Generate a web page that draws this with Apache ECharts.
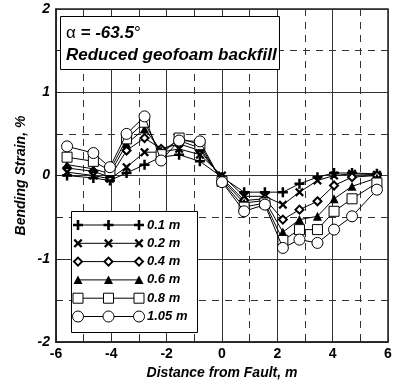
<!DOCTYPE html>
<html><head><meta charset="utf-8">
<script src="https://cdn.jsdelivr.net/npm/echarts@6/dist/echarts.min.js"></script>
<style>html,body{margin:0;padding:0;background:#fff}#c{width:402px;height:387px}</style>
</head><body><div id="c"></div>
<script>
var distances = [-5.6, -4.65, -4.05, -3.45, -2.8, -2.2, -1.55, -0.8, 0, 0.8, 1.55, 2.2, 2.8, 3.45, 4.05, 4.7, 5.6];
var seriesNames = ['0.1 m', '0.2 m', '0.4 m', '0.6 m', '0.8 m', '1.05 m'];
var strain01 = [0.0, -0.03, -0.06, 0.03, 0.13, 0.22, 0.25, 0.17, -0.02, -0.2, -0.2, -0.2, -0.1, -0.02, 0.03, 0.03, 0.02];
var strain02 = [0.04, 0.0, -0.04, 0.1, 0.28, 0.28, 0.32, 0.25, 0.0, -0.25, -0.25, -0.35, -0.2, -0.06, 0.0, 0.02, 0.01];
var strain04 = [0.09, 0.05, -0.02, 0.3, 0.45, 0.32, 0.38, 0.3, -0.03, -0.3, -0.28, -0.53, -0.41, -0.31, -0.12, -0.02, 0.0];
var strain06 = [0.13, 0.08, 0.02, 0.38, 0.56, 0.3, 0.42, 0.33, -0.05, -0.33, -0.3, -0.68, -0.53, -0.49, -0.28, -0.13, -0.03];
var strain08 = [0.22, 0.17, 0.06, 0.44, 0.64, 0.25, 0.45, 0.37, -0.07, -0.38, -0.33, -0.78, -0.65, -0.65, -0.43, -0.28, -0.09];
var strain105 = [0.35, 0.27, 0.1, 0.5, 0.71, 0.18, 0.42, 0.41, -0.08, -0.43, -0.35, -0.87, -0.77, -0.81, -0.65, -0.49, -0.17];
var xTicks = [-6, -4, -2, 0, 2, 4, 6];
var yTicks = [-2, -1, 0, 1, 2];
var annotationLine1 = ' = -63.5';
var annotationLine2 = 'Reduced geofoam backfill';

var FONT = '"Liberation Sans", Arial, sans-serif';
var allData = [strain01, strain02, strain04, strain06, strain08, strain105];
var symbolDefs = [
  {symbol: 'path://M3,0H5V3H8V5H5V8H3V5H0V3H3Z', size: 10, fill: '#000', border: 0},
  {symbol: 'path://M0,1.4L1.4,0L4,2.6L6.6,0L8,1.4L5.4,4L8,6.6L6.6,8L4,5.4L1.4,8L0,6.6L2.6,4Z', size: 9, fill: '#000', border: 0},
  {symbol: 'diamond', size: 8, fill: '#fff', border: 2},
  {symbol: 'triangle', size: 9, fill: '#000', border: 0},
  {symbol: 'rect', size: 10, fill: '#fff', border: 1},
  {symbol: 'circle', size: 11, fill: '#fff', border: 1}
];

var series = allData.map(function (arr, i) {
  var d = symbolDefs[i];
  return {
    name: seriesNames[i],
    type: 'line',
    data: distances.map(function (x, k) { return [x, arr[k]]; }),
    symbol: d.symbol,
    symbolSize: d.size,
    showAllSymbol: true,
    lineStyle: {color: '#000', width: 1},
    itemStyle: {color: d.fill, borderColor: '#000', borderWidth: d.border},
    z: 3 + i
  };
});

function legendSymbol(type, cx, cy) {
  if (type === 0) {
    var a = 1.3, r = 5;
    return {type: 'polygon', shape: {points: [[cx - a, cy - r], [cx + a, cy - r], [cx + a, cy - a], [cx + r, cy - a], [cx + r, cy + a], [cx + a, cy + a], [cx + a, cy + r], [cx - a, cy + r], [cx - a, cy + a], [cx - r, cy + a], [cx - r, cy - a], [cx - a, cy - a]]}, style: {fill: '#000'}};
  }
  if (type === 1) {
    var s = 4.5, t = 1.6;
    return {type: 'polygon', shape: {points: [[cx - s, cy - s + t], [cx - s + t, cy - s], [cx, cy - t], [cx + s - t, cy - s], [cx + s, cy - s + t], [cx + t, cy], [cx + s, cy + s - t], [cx + s - t, cy + s], [cx, cy + t], [cx - s + t, cy + s], [cx - s, cy + s - t], [cx - t, cy]]}, style: {fill: '#000'}};
  }
  if (type === 2) {
    return {type: 'polygon', shape: {points: [[cx, cy - 4], [cx + 4, cy], [cx, cy + 4], [cx - 4, cy]]}, style: {fill: '#fff', stroke: '#000', lineWidth: 2}};
  }
  if (type === 3) {
    return {type: 'polygon', shape: {points: [[cx, cy - 4.5], [cx + 4.5, cy + 4], [cx - 4.5, cy + 4]]}, style: {fill: '#000'}};
  }
  if (type === 4) {
    return {type: 'rect', shape: {x: cx - 5, y: cy - 5, width: 10, height: 10}, style: {fill: '#fff', stroke: '#000', lineWidth: 1}};
  }
  return {type: 'circle', shape: {cx: cx, cy: cy, r: 5.5}, style: {fill: '#fff', stroke: '#000', lineWidth: 1}};
}

var overlay = [];
overlay.push({type: 'rect', z: 100, shape: {x: 60.5, y: 16.5, width: 219, height: 53}, style: {fill: '#fff', stroke: '#000', lineWidth: 1}});
overlay.push({type: 'text', z: 101, x: 66, y: 33, style: {
  text: '{a|α}{b|' + annotationLine1 + '}{a|°}',
  verticalAlign: 'middle',
  rich: {
    a: {fontFamily: FONT, fontSize: 17, fontWeight: 'normal', fontStyle: 'normal', fill: '#000'},
    b: {fontFamily: FONT, fontSize: 17, fontWeight: 'bold', fontStyle: 'italic', fill: '#000'}
  }
}});
overlay.push({type: 'text', z: 101, x: 66, y: 55, style: {text: annotationLine2, font: 'italic bold 17px ' + FONT, fill: '#000', verticalAlign: 'middle'}});
overlay.push({type: 'rect', z: 100, shape: {x: 71.5, y: 211.5, width: 126, height: 121}, style: {fill: '#fff', stroke: '#000', lineWidth: 1}});
seriesNames.forEach(function (nm, i) {
  var cy = 225 + i * 18.3;
  overlay.push({type: 'line', z: 101, shape: {x1: 78, y1: cy, x2: 139, y2: cy}, style: {stroke: '#000', lineWidth: 1}});
  [78, 108.5, 139].forEach(function (cx) { var el = legendSymbol(i, cx, cy); el.z = 102; overlay.push(el); });
  overlay.push({type: 'text', z: 102, x: 147, y: cy, style: {text: nm, font: 'italic bold 13px ' + FONT, fill: '#000', verticalAlign: 'middle', textAlign: 'left'}});
});
overlay.forEach(function (el) { el.zlevel = 1; });

var option = {
  animation: false,
  backgroundColor: '#fff',
  grid: {left: 56, right: 14, top: 9, bottom: 45, show: true, borderColor: '#222', borderWidth: 1.5, backgroundColor: 'transparent'},
  xAxis: {
    type: 'value', min: xTicks[0], max: xTicks[xTicks.length - 1], interval: 2,
    name: 'Distance from Fault, m', nameLocation: 'middle', nameGap: 19,
    nameTextStyle: {fontFamily: FONT, fontWeight: 'bold', fontStyle: 'italic', fontSize: 14, color: '#000'},
    axisLine: {show: true, onZero: false, lineStyle: {color: '#222', width: 1.5}},
    axisTick: {show: true, inside: true, length: 5, lineStyle: {color: '#222'}},
    minorTick: {show: true, splitNumber: 2, length: 5, lineStyle: {color: '#222'}},
    axisLabel: {fontFamily: FONT, fontWeight: 'bold', fontSize: 14, color: '#000', margin: 5},
    splitLine: {show: true, lineStyle: {color: '#333', width: 1}},
    minorSplitLine: {show: true, lineStyle: {color: '#333', width: 1, type: [7, 6]}}
  },
  yAxis: {
    type: 'value', min: yTicks[0], max: yTicks[yTicks.length - 1], interval: 1,
    name: 'Bending Strain, %', nameLocation: 'middle', nameGap: 28, nameMoveOverlap: false,
    nameTextStyle: {fontFamily: FONT, fontWeight: 'bold', fontStyle: 'italic', fontSize: 14, color: '#000'},
    axisLine: {show: true, onZero: false, lineStyle: {color: '#222', width: 1.5}},
    axisTick: {show: true, inside: true, length: 5, lineStyle: {color: '#222'}},
    minorTick: {show: true, splitNumber: 2, length: 5, lineStyle: {color: '#222'}},
    axisLabel: {fontFamily: FONT, fontWeight: 'bold', fontStyle: 'italic', fontSize: 14, color: '#000', margin: 6},
    splitLine: {show: true, lineStyle: {color: '#333', width: 1}},
    minorSplitLine: {show: true, lineStyle: {color: '#333', width: 1, type: [7, 6]}}
  },
  series: series,
  graphic: {elements: overlay}
};
var chart = echarts.init(document.getElementById('c'), null, {renderer: 'canvas'});
chart.setOption(option);
</script></body></html>
